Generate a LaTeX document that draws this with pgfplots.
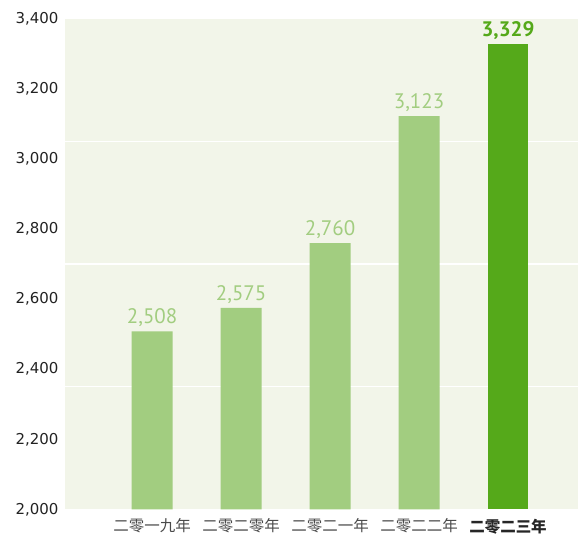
\documentclass[border=0pt]{standalone}
\usepackage{pgfplots}
\pgfplotsset{compat=1.18}
\usepackage{fontspec}
\setmainfont{PT Sans}
\newfontfamily\tickfont{DejaVu Sans}
\newfontfamily\cjk{Noto Sans CJK SC}
\definecolor{bgc}{HTML}{F2F5E9}
\definecolor{lightbar}{HTML}{A2CD80}
\definecolor{darkbar}{HTML}{55A91A}
\definecolor{ticktext}{HTML}{222222}
\definecolor{xtext}{HTML}{4A4A4A}
\begin{document}
\begin{tikzpicture}
\begin{axis}[
  at={(0,0)}, anchor=south west,
  scale only axis,
  width=514pt, height=491pt,
  xmin=-0.98, xmax=4.79,
  ymin=2000, ymax=3400,
  axis line style={draw=none},
  axis background/.style={fill=bgc},
  ybar, bar shift=0pt, bar width=41pt,
  ytick={2000,2200,...,3400},
  xtick={0,1,2,3,4},
  xticklabels={{\cjk 二零一九年},{\cjk 二零二零年},{\cjk 二零二一年},{\cjk 二零二二年},{\cjk\bfseries\color{black!85} 二零二三年}},
  xticklabel style={font=\fontsize{15.5}{15.5}\selectfont, text=xtext, anchor=north, yshift=-6pt},
  yticklabel style={font=\tickfont\fontsize{15}{15}\selectfont, text=ticktext, anchor=east, xshift=-3pt},
  major tick length=0pt,
  /pgf/number format/.cd, 1000 sep={,}, assume math mode=true,
  /pgfplots/.cd,
  extra y ticks={2350,2700,3050},
  extra y tick labels={},
  extra y tick style={grid=major, major grid style={white, line width=1.4pt}},
  nodes near coords,
  nodes near coords align={vertical},
  clip=false,
]
\addplot[fill=lightbar, draw=none,
  nodes near coords style={font=\fontsize{21}{21}\selectfont, text=lightbar, yshift=1pt}]
  coordinates {(0,2508) (1,2575) (2,2760) (3,3123)};
\addplot[fill=darkbar, draw=none,
  nodes near coords style={font=\bfseries\fontsize{21}{21}\selectfont, text=darkbar, yshift=1pt}]
  coordinates {(4,3329)};
\end{axis}
\path[use as bounding box] (-65pt,-30pt) rectangle (514pt,510pt);
\end{tikzpicture}
\end{document}
